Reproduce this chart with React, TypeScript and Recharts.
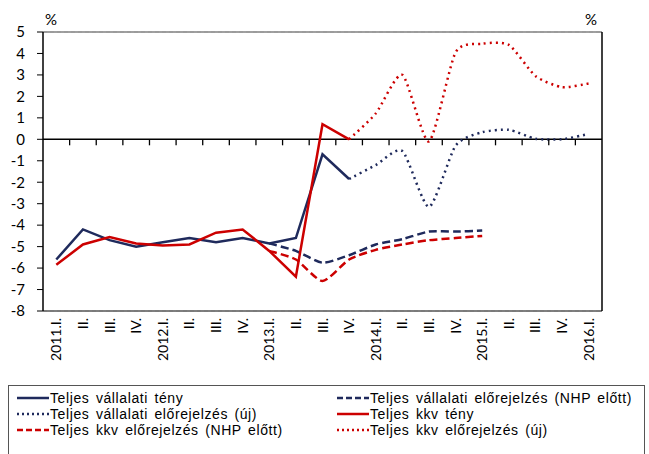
import React from 'react';
import { LineChart, Line, XAxis, YAxis, CartesianGrid, ReferenceLine } from 'recharts';

const QUARTERS = [
    '2011.I.', 'II.', 'III.', 'IV.',
    '2012.I.', 'II.', 'III.', 'IV.',
    '2013.I.', 'II.', 'III.', 'IV.',
    '2014.I.', 'II.', 'III.', 'IV.',
    '2015.I.', 'II.', 'III.', 'IV.',
    '2016.I.',
];

const Y_TICKS = [-8, -7, -6, -5, -4, -3, -2, -1, 0, 1, 2, 3, 4, 5];

// Teljes vállalati
const vallTeny = [-5.6, -4.2, -4.7, -5.0, -4.8, -4.6, -4.8, -4.6, -4.85, -4.6, -0.7, -1.85, null, null, null, null, null, null, null, null, null];
const vallNhp = [null, null, null, null, null, null, null, null, -4.85, -5.2, -5.75, -5.4, -4.9, -4.65, -4.3, -4.3, -4.25, null, null, null, null];
const vallUj = [null, null, null, null, null, null, null, null, null, null, null, -1.85, -1.2, -0.55, -3.15, -0.3, 0.33, 0.44, 0.03, 0.0, 0.25];

// Teljes kkv
const kkvTeny = [-5.85, -4.9, -4.55, -4.85, -4.95, -4.9, -4.35, -4.2, -5.2, -6.4, 0.7, 0.0, null, null, null, null, null, null, null, null, null];
const kkvNhp = [null, null, null, null, null, null, null, null, -5.2, -5.6, -6.6, -5.6, -5.15, -4.9, -4.7, -4.6, -4.5, null, null, null, null];
const kkvUj = [null, null, null, null, null, null, null, null, null, null, null, 0.0, 1.2, 3.0, -0.1, 4.05, 4.45, 4.4, 2.95, 2.43, 2.6];

const NAVY = '#1f2a5c';
const RED = '#cc0000';
const FONT = 'Lato, "Open Sans", sans-serif';
const LEGEND_FONT = '"Liberation Sans", Arial, sans-serif';

const W = 649;
const H = 385;
const PLOT_LEFT = 43;
const PLOT_RIGHT = 602;
const PLOT_TOP = 32;
const PLOT_BOTTOM = 311;
const STEP = (PLOT_RIGHT - PLOT_LEFT) / QUARTERS.length;
const ZERO_Y = PLOT_TOP + ((PLOT_BOTTOM - PLOT_TOP) * 5) / 13;

const chartData = QUARTERS.map((q, i) => ({
    q: `${i}|${q}`,
    vallTeny: vallTeny[i],
    vallNhp: vallNhp[i],
    vallUj: vallUj[i],
    kkvTeny: kkvTeny[i],
    kkvNhp: kkvNhp[i],
    kkvUj: kkvUj[i],
}));

const legendItems = [
    { name: 'Teljes vállalati tény', color: NAVY, dash: undefined },
    { name: 'Teljes vállalati előrejelzés (NHP előtt)', color: NAVY, dash: '6 3' },
    { name: 'Teljes vállalati előrejelzés (új)', color: NAVY, dash: '2 3' },
    { name: 'Teljes kkv tény', color: RED, dash: undefined },
    { name: 'Teljes kkv előrejelzés (NHP előtt)', color: RED, dash: '6 3' },
    { name: 'Teljes kkv előrejelzés (új)', color: RED, dash: '2 3' },
];

// smoothed line like Excel's, tangents kept a bit short so it doesn't overshoot
function smoothCurve(context: any) {
    let pts: number[][] = [];
    const k = 1 / 9;
    return {
        areaStart() {},
        areaEnd() {},
        lineStart() {
            pts = [];
        },
        point(x: number, y: number) {
            pts.push([+x, +y]);
        },
        lineEnd() {
            if (!pts.length) return;
            context.moveTo(pts[0][0], pts[0][1]);
            for (let i = 0; i < pts.length - 1; i++) {
                const p0 = pts[i - 1] || pts[i];
                const p1 = pts[i];
                const p2 = pts[i + 1];
                const p3 = pts[i + 2] || p2;
                context.bezierCurveTo(
                    p1[0] + (p2[0] - p0[0]) * k,
                    p1[1] + (p2[1] - p0[1]) * k,
                    p2[0] - (p3[0] - p1[0]) * k,
                    p2[1] - (p3[1] - p1[1]) * k,
                    p2[0],
                    p2[1],
                );
            }
        },
    };
}

function XTick(props: any) {
    const { x, y, payload, index } = props;
    const label = String(payload.value).split('|')[1];
    return (
        <g>
            {index > 0 && (
                <line x1={x - STEP / 2} x2={x - STEP / 2} y1={ZERO_Y} y2={ZERO_Y + 6} stroke="#000" strokeWidth={1.3} />
            )}
            <text
                x={x}
                y={y + 7}
                dy="0.36em"
                transform={`rotate(-90 ${x} ${y + 7})`}
                textAnchor="end"
                fontSize={14}
                fontFamily={FONT}
                fill="#000"
            >
                {label}
            </text>
        </g>
    );
}

export default function App() {
    return (
        <div style={{ position: 'absolute', left: 0, top: 0, width: W, height: 454, background: '#fff', overflow: 'hidden', fontFamily: FONT }}>
            <div style={{ position: 'absolute', left: 45, top: 10, fontSize: 15 }}>%</div>
            <div style={{ position: 'absolute', left: 585, top: 10, fontSize: 15 }}>%</div>
            <LineChart
                width={W}
                height={H}
                data={chartData}
                margin={{ top: PLOT_TOP, right: W - PLOT_RIGHT - 40, bottom: 4, left: PLOT_LEFT - 35 }}
            >
                <CartesianGrid vertical={false} stroke="#d9d9d9" strokeDasharray="4 3" />
                <XAxis
                    dataKey="q"
                    interval={0}
                    height={H - PLOT_BOTTOM - 4}
                    padding={{ left: STEP / 2, right: STEP / 2 }}
                    tick={<XTick />}
                    tickLine={false}
                    tickSize={0}
                    tickMargin={0}
                    axisLine={{ stroke: '#555', strokeWidth: 1.5 }}
                />
                <YAxis
                    yAxisId="left"
                    width={35}
                    domain={[-8, 5]}
                    ticks={Y_TICKS}
                    interval={0}
                    tickSize={6}
                    tickMargin={12}
                    tick={{ fontSize: 15, fill: '#000', fontFamily: FONT }}
                    tickLine={{ stroke: '#000' }}
                    axisLine={{ stroke: '#000', strokeWidth: 1.5 }}
                />
                <YAxis
                    yAxisId="right"
                    orientation="right"
                    width={40}
                    domain={[-8, 5]}
                    ticks={Y_TICKS}
                    interval={0}
                    tickSize={7}
                    tickMargin={10}
                    tick={{ fontSize: 15, fill: '#000', fontFamily: FONT, textAnchor: 'start' }}
                    tickLine={{ stroke: '#000' }}
                    axisLine={{ stroke: '#000', strokeWidth: 1.5 }}
                />
                <ReferenceLine yAxisId="left" y={5} stroke="#808080" strokeWidth={1.5} />
                <ReferenceLine yAxisId="left" y={0} stroke="#000" strokeWidth={1.5} />

                <Line yAxisId="left" dataKey="vallNhp" stroke={NAVY} strokeWidth={2.5} strokeDasharray="8 4" type={smoothCurve as any} dot={false} isAnimationActive={false} />
                <Line yAxisId="left" dataKey="kkvNhp" stroke={RED} strokeWidth={2.5} strokeDasharray="8 4" type={smoothCurve as any} dot={false} isAnimationActive={false} />
                <Line yAxisId="left" dataKey="vallUj" stroke={NAVY} strokeWidth={2.5} strokeDasharray="2 4" type={smoothCurve as any} dot={false} isAnimationActive={false} />
                <Line yAxisId="left" dataKey="kkvUj" stroke={RED} strokeWidth={2.5} strokeDasharray="2 4" type={smoothCurve as any} dot={false} isAnimationActive={false} />
                <Line yAxisId="left" dataKey="vallTeny" stroke={NAVY} strokeWidth={2.5} type="linear" dot={false} isAnimationActive={false} />
                <Line yAxisId="left" dataKey="kkvTeny" stroke={RED} strokeWidth={2.5} type="linear" dot={false} isAnimationActive={false} />
            </LineChart>

            <div
                style={{
                    position: 'absolute',
                    left: 8,
                    top: 385,
                    width: 637,
                    height: 90,
                    border: '1px solid #555',
                    boxSizing: 'border-box',
                    fontFamily: LEGEND_FONT,
                }}
            >
                {legendItems.map((item, i) => (
                    <div
                        key={item.name}
                        style={{
                            position: 'absolute',
                            left: i % 2 === 0 ? 8 : 328,
                            top: 4 + Math.floor(i / 2) * 16,
                            height: 16,
                            lineHeight: '16px',
                            display: 'flex',
                            alignItems: 'center',
                            fontSize: 14,
                            letterSpacing: 0.6,
                            wordSpacing: 2,
                            whiteSpace: 'nowrap',
                        }}
                    >
                        <svg width={32} height={6} style={{ marginRight: 1 }}>
                            <line x1={0} x2={32} y1={3} y2={3} stroke={item.color} strokeWidth={2.5} strokeDasharray={item.dash} />
                        </svg>
                        <span>{item.name}</span>
                    </div>
                ))}
            </div>
        </div>
    );
}
